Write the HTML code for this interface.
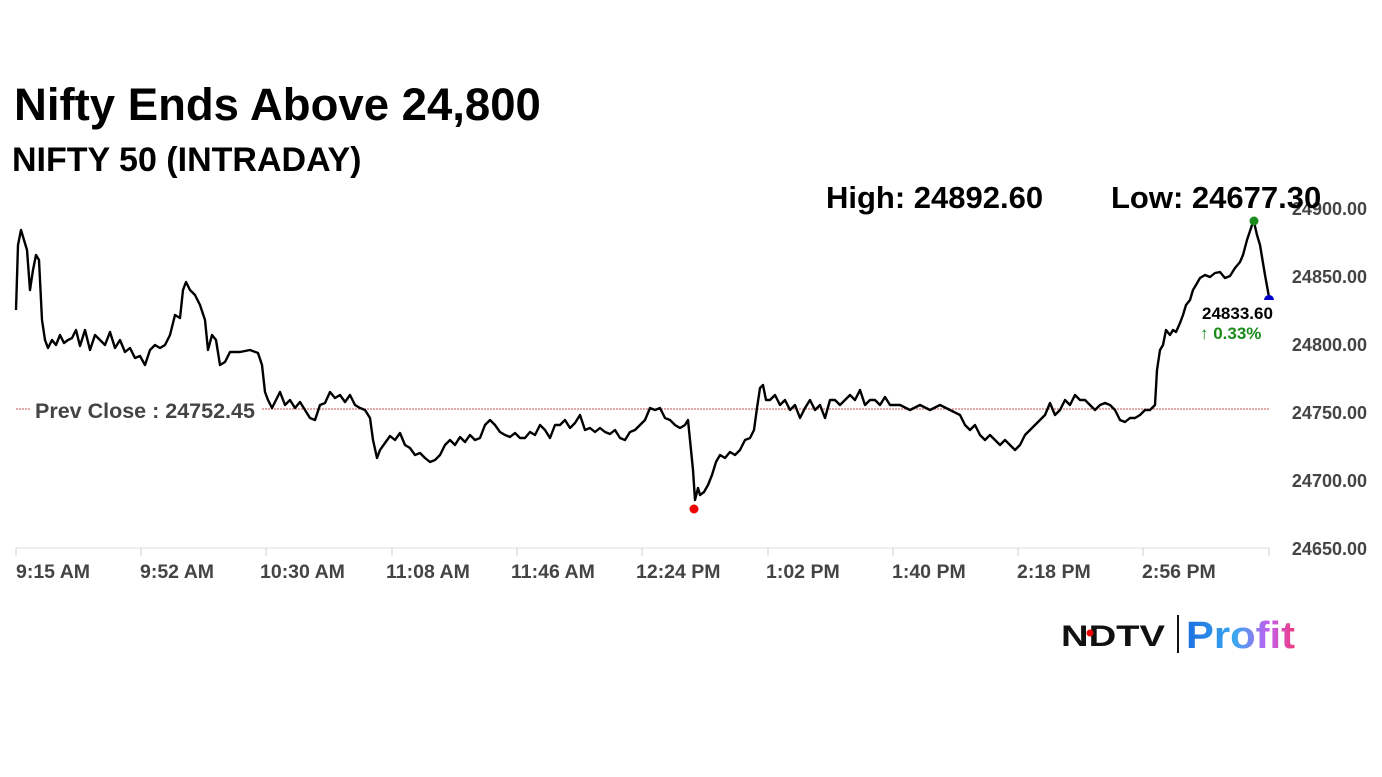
<!DOCTYPE html>
<html><head><meta charset="utf-8"><style>
body{margin:0;background:#fff;width:1382px;height:777px;overflow:hidden;font-family:"Liberation Sans",sans-serif}
</style></head><body>
<svg width="1382" height="777" xmlns="http://www.w3.org/2000/svg" style="position:absolute;left:0;top:0">
<text x="14" y="120" font-size="45.5" font-weight="bold" fill="#000">Nifty Ends Above 24,800</text>
<text x="12" y="171" font-size="34" font-weight="bold" fill="#000">NIFTY 50 (INTRADAY)</text>
<g font-size="18" font-weight="bold" fill="#444" text-anchor="end">
<text x="1367" y="215">24900.00</text>
<text x="1367" y="283">24850.00</text>
<text x="1367" y="351">24800.00</text>
<text x="1367" y="419">24750.00</text>
<text x="1367" y="487">24700.00</text>
<text x="1367" y="555">24650.00</text>
</g>
<text x="826" y="208" font-size="31" font-weight="bold" fill="#000">High: 24892.60</text>
<text x="1111" y="208" font-size="31" font-weight="bold" fill="#000">Low: 24677.30</text>
<line x1="16" y1="548" x2="1269" y2="548" stroke="#ddd" stroke-width="1"/>
<g stroke="#ccc" stroke-width="1">
<line x1="16" y1="548" x2="16" y2="556"/><line x1="141" y1="548" x2="141" y2="556"/><line x1="266" y1="548" x2="266" y2="556"/><line x1="392" y1="548" x2="392" y2="556"/><line x1="517" y1="548" x2="517" y2="556"/><line x1="642" y1="548" x2="642" y2="556"/><line x1="768" y1="548" x2="768" y2="556"/><line x1="893" y1="548" x2="893" y2="556"/><line x1="1018" y1="548" x2="1018" y2="556"/><line x1="1143" y1="548" x2="1143" y2="556"/><line x1="1269" y1="548" x2="1269" y2="556"/>
</g>
<g font-size="19.5" font-weight="bold" fill="#444">
<text x="16" y="578">9:15 AM</text><text x="140" y="578">9:52 AM</text><text x="260" y="578">10:30 AM</text><text x="386" y="578">11:08 AM</text><text x="511" y="578">11:46 AM</text><text x="636" y="578">12:24 PM</text><text x="766" y="578">1:02 PM</text><text x="892" y="578">1:40 PM</text><text x="1017" y="578">2:18 PM</text><text x="1142" y="578">2:56 PM</text>
</g>
<line x1="16" y1="409" x2="1269" y2="409" stroke="#c0504d" stroke-width="1" stroke-dasharray="2,1"/>
<rect x="30" y="396" width="232" height="26" fill="#fff"/>
<text x="35" y="418" font-size="21.5" font-weight="bold" fill="#444">Prev Close : 24752.45</text>
<polyline fill="none" stroke="#000" stroke-width="2.4" stroke-linejoin="round" points="16,310 18,245 21,230 24,240 27,250 30,290 33,270 36,255 39,260 42,320 45,340 48,348 52,340 56,345 60,335 64,343 68,340 72,338 76,330 80,346 85,330 90,350 95,335 100,340 105,345 110,332 115,348 120,340 125,352 130,348 135,358 140,356 145,365 150,350 155,345 160,348 165,345 170,335 175,315 180,318 183,290 186,282 190,290 195,295 200,305 205,320 208,350 212,335 216,340 220,365 225,362 230,352 240,352 250,350 258,353 262,365 265,392 268,400 272,408 276,400 280,392 285,405 290,400 295,408 300,402 305,410 310,418 315,420 320,405 325,403 330,392 335,398 340,395 345,402 350,395 355,405 360,408 365,410 370,418 373,440 377,458 380,450 385,443 390,436 395,440 400,433 405,445 410,448 415,455 420,453 425,458 430,462 435,460 440,455 445,445 450,440 455,445 460,437 465,442 470,435 475,440 480,438 485,425 490,420 495,425 500,432 505,435 510,437 515,433 520,438 525,438 530,432 535,435 540,425 545,430 550,438 555,425 560,425 565,420 570,428 575,423 580,415 585,430 590,428 595,432 600,428 605,432 610,434 615,430 620,438 625,440 630,432 635,430 640,425 645,420 650,408 655,410 660,408 665,418 670,420 675,425 680,428 685,425 688,420 690,440 693,470 695,500 698,488 700,495 704,492 708,485 712,475 716,462 720,455 725,458 730,452 735,455 740,450 745,440 750,438 754,430 757,408 760,388 763,385 766,400 770,400 775,395 780,405 785,400 790,410 795,405 800,418 805,408 810,400 815,410 820,405 825,418 830,400 835,400 840,405 845,400 850,395 855,400 860,390 865,405 870,400 875,400 880,405 885,397 890,405 900,405 910,410 920,405 930,410 940,405 950,410 960,415 965,425 970,430 975,425 980,435 985,440 990,435 995,440 1000,445 1005,440 1010,445 1015,450 1020,445 1025,435 1030,430 1035,425 1040,420 1045,415 1050,403 1055,415 1060,410 1065,400 1070,405 1075,395 1080,400 1085,400 1090,405 1095,410 1100,405 1105,403 1110,405 1115,410 1120,420 1125,422 1130,418 1135,418 1140,415 1145,410 1150,410 1155,405 1157,370 1160,350 1163,345 1166,330 1170,335 1173,330 1176,332 1180,323 1183,315 1186,305 1190,300 1193,290 1196,285 1200,278 1205,275 1210,277 1215,273 1220,272 1225,278 1230,276 1235,268 1240,262 1243,255 1247,240 1252,225 1254,222 1257,235 1260,245 1265,275 1269,297"/>
<circle cx="1254" cy="221" r="4.5" fill="#1a8a1a"/>
<circle cx="694" cy="509" r="4.5" fill="#e00"/>
<path d="M1264,300 A5,5 0 0 1 1274,300 Z" fill="#00c"/>
<text x="1202" y="319" font-size="17" font-weight="bold" fill="#000">24833.60</text>
<text x="1200" y="339" font-size="17" font-weight="bold" fill="#1a8a1a">↑ 0.33%</text>
<text x="1061" y="646" font-size="30" font-weight="bold" fill="#111" textLength="104" lengthAdjust="spacingAndGlyphs">NDTV</text>
<circle cx="1090" cy="633" r="3.5" fill="#e00"/>
<line x1="1178" y1="615" x2="1178" y2="653" stroke="#111" stroke-width="2"/>
<defs><linearGradient id="g" x1="0" x2="1"><stop offset="0" stop-color="#1b6fe0"/><stop offset="0.45" stop-color="#3aa8f0"/><stop offset="0.75" stop-color="#c060f0"/><stop offset="1" stop-color="#f03a80"/></linearGradient></defs>
<text x="1186" y="648" font-size="38" font-weight="bold" fill="url(#g)" textLength="109" lengthAdjust="spacingAndGlyphs">Profit</text>
</svg>
</body></html>
